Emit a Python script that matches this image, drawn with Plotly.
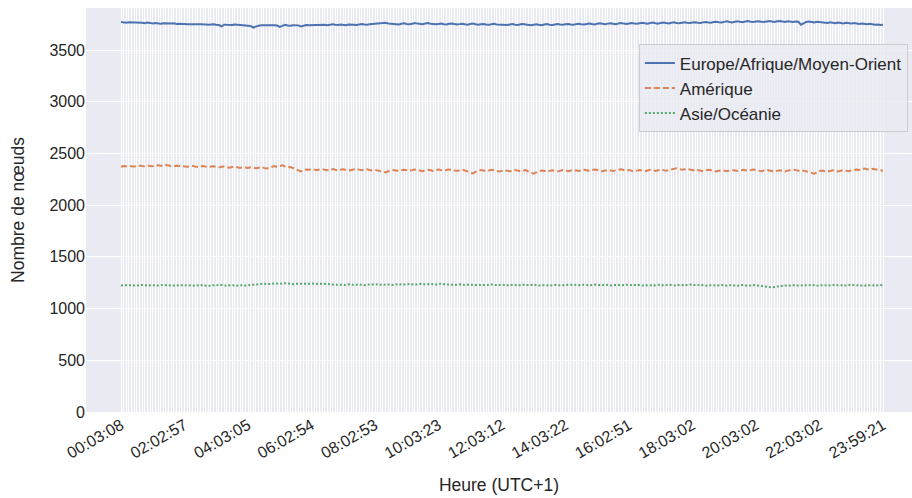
import plotly.graph_objects as go

tick_labels = ["00:03:08", "02:02:57", "04:03:05", "06:02:54", "08:02:53", "10:03:23",
               "12:03:12", "14:03:22", "16:02:51", "18:03:02", "20:03:02", "22:03:02", "23:59:21"]
tick_step = 24
n_points = 289
x_index = list(range(n_points))

europe = [
    3772, 3768, 3765, 3770, 3769, 3766, 3768, 3771, 3764, 3760, 3766, 3763, 3758, 3761, 3757, 3755, 3760, 3758, 3754, 3756, 3759, 3752, 3755, 3757,
    3753, 3750, 3748, 3752, 3747, 3749, 3751, 3746, 3748, 3744, 3747, 3750, 3745, 3742, 3730, 3746, 3744, 3740, 3743, 3747, 3745, 3741, 3744, 3742,
    3738, 3732, 3718, 3728, 3736, 3740, 3738, 3742, 3735, 3739, 3741, 3737, 3725, 3733, 3744, 3738, 3735, 3741, 3743, 3739, 3728, 3737, 3742, 3740,
    3741, 3745, 3739, 3743, 3747, 3744, 3740, 3746, 3749, 3745, 3742, 3748, 3744, 3741, 3747, 3750, 3746, 3743, 3749, 3752, 3748, 3745, 3751, 3755,
    3752, 3756, 3760, 3762, 3765, 3758, 3754, 3757, 3750, 3748, 3755, 3759, 3753, 3749, 3754, 3761, 3756, 3752, 3750, 3757, 3762, 3755, 3751, 3749,
    3753, 3756, 3750, 3748, 3755, 3758, 3752, 3747, 3751, 3754, 3749, 3746, 3752, 3756, 3750, 3745, 3749, 3753, 3748, 3744, 3750, 3754, 3748, 3746,
    3749, 3745, 3742, 3748, 3751, 3746, 3743, 3749, 3752, 3747, 3744, 3741, 3746, 3750, 3744, 3740, 3747, 3751, 3746, 3742, 3748, 3752, 3747, 3744,
    3749, 3753, 3748, 3745, 3751, 3755, 3750, 3747, 3753, 3757, 3752, 3748, 3755, 3759, 3754, 3750, 3756, 3760, 3755, 3751, 3757, 3761, 3756, 3753,
    3758, 3762, 3757, 3754, 3760, 3764, 3759, 3755, 3761, 3766, 3760, 3756, 3763, 3767, 3762, 3758, 3764, 3768, 3763, 3759, 3765, 3769, 3764, 3761,
    3766, 3770, 3765, 3762, 3768, 3772, 3767, 3764, 3771, 3775, 3770, 3766, 3773, 3778, 3772, 3768, 3774, 3779, 3773, 3769, 3776, 3780, 3775, 3771,
    3776, 3779, 3774, 3771, 3777, 3781, 3776, 3772, 3778, 3782, 3777, 3773, 3779, 3775, 3771, 3777, 3774, 3745, 3760, 3772, 3776, 3770, 3767, 3773,
    3769, 3772, 3766, 3763, 3769, 3765, 3760, 3766, 3762, 3758, 3764, 3760, 3756, 3761, 3757, 3753, 3758, 3754, 3750, 3755, 3748, 3744, 3747, 3742,
    3745,
]

amerique = [
    2372, 2378, 2376, 2380, 2377, 2374, 2379, 2382, 2378, 2375, 2381, 2379, 2376, 2383, 2386, 2381, 2378, 2388, 2384, 2380, 2376, 2382, 2379, 2374,
    2378, 2372, 2376, 2380, 2374, 2370, 2375, 2379, 2373, 2369, 2374, 2377, 2371, 2366, 2372, 2375, 2368, 2363, 2369, 2372, 2366, 2361, 2367, 2364,
    2360, 2366, 2362, 2357, 2363, 2368, 2361, 2356, 2362, 2372, 2378, 2369, 2380, 2386, 2374, 2365, 2370, 2358, 2349, 2338, 2326, 2340, 2346, 2342,
    2348, 2344, 2339, 2345, 2350, 2343, 2338, 2344, 2349, 2342, 2336, 2342, 2347, 2341, 2335, 2340, 2346, 2351, 2344, 2338, 2343, 2348, 2341, 2336,
    2342, 2337, 2332, 2325, 2316, 2328, 2335, 2341, 2336, 2330, 2337, 2343, 2338, 2332, 2339, 2345, 2340, 2334, 2329, 2336, 2342, 2337, 2331, 2338,
    2344, 2339, 2333, 2340, 2346, 2341, 2335, 2330, 2337, 2343, 2336, 2326, 2315, 2308, 2322, 2334, 2340, 2335, 2329, 2336, 2342, 2337, 2330, 2325,
    2332, 2338, 2333, 2328, 2335, 2340, 2334, 2327, 2333, 2339, 2322, 2312, 2305, 2318, 2330, 2336, 2331, 2325, 2332, 2338, 2333, 2327, 2334, 2339,
    2333, 2328, 2335, 2341, 2336, 2330, 2337, 2343, 2338, 2332, 2339, 2345, 2340, 2334, 2328, 2335, 2341, 2336, 2330, 2337, 2343, 2348, 2340, 2334,
    2339, 2333, 2327, 2334, 2340, 2335, 2329, 2336, 2342, 2337, 2331, 2338, 2344, 2339, 2333, 2340, 2346, 2352, 2358, 2350, 2342, 2347, 2353, 2345,
    2338, 2333, 2340, 2335, 2329, 2336, 2342, 2337, 2331, 2326, 2333, 2339, 2334, 2328, 2335, 2341, 2336, 2330, 2337, 2343, 2338, 2332, 2339, 2345,
    2340, 2334, 2328, 2335, 2341, 2336, 2330, 2325, 2332, 2338, 2333, 2327, 2334, 2340, 2346, 2339, 2333, 2328, 2335, 2330, 2322, 2313, 2304, 2318,
    2329, 2335, 2330, 2324, 2331, 2337, 2332, 2326, 2333, 2339, 2334, 2328, 2335, 2341, 2346, 2340, 2350, 2355, 2348, 2342, 2352, 2346, 2340, 2336,
    2334,
]

asie = [
    1224, 1226, 1222, 1225, 1227, 1223, 1221, 1226, 1228, 1224, 1222, 1225, 1229, 1226, 1223, 1227, 1230, 1226, 1224, 1228, 1225, 1222, 1226, 1229,
    1227, 1224, 1228, 1225, 1221, 1226, 1229, 1225, 1222, 1218, 1224, 1227, 1223, 1226, 1229, 1225, 1221, 1226, 1228, 1224, 1222, 1225, 1227, 1223,
    1226, 1230, 1233, 1236, 1234, 1238, 1241, 1237, 1235, 1239, 1243, 1240, 1237, 1241, 1245, 1242, 1238, 1236, 1240, 1244, 1241, 1239, 1236, 1240,
    1243, 1239, 1235, 1238, 1242, 1238, 1234, 1237, 1233, 1230, 1234, 1231, 1228, 1232, 1235, 1231, 1228, 1231, 1234, 1230, 1227, 1231, 1233, 1229,
    1232, 1235, 1231, 1228, 1233, 1236, 1232, 1229, 1233, 1237, 1233, 1230, 1234, 1238, 1234, 1231, 1235, 1239, 1235, 1232, 1236, 1240, 1236, 1233,
    1237, 1241, 1236, 1232, 1235, 1231, 1228, 1232, 1235, 1231, 1227, 1231, 1234, 1230, 1227, 1230, 1233, 1229, 1226, 1230, 1233, 1229, 1226, 1229,
    1232, 1228, 1225, 1229, 1232, 1228, 1224, 1228, 1231, 1227, 1224, 1228, 1231, 1227, 1223, 1227, 1230, 1226, 1223, 1227, 1230, 1226, 1223, 1226,
    1229, 1226, 1230, 1233, 1229, 1226, 1230, 1233, 1229, 1225, 1229, 1232, 1228, 1225, 1229, 1232, 1228, 1224, 1228, 1231, 1227, 1224, 1228, 1231,
    1227, 1224, 1228, 1231, 1227, 1223, 1227, 1230, 1226, 1223, 1227, 1230, 1226, 1223, 1227, 1231, 1227, 1224, 1228, 1231, 1227, 1224, 1228, 1232,
    1228, 1224, 1227, 1230, 1226, 1222, 1226, 1229, 1225, 1222, 1226, 1229, 1225, 1221, 1225, 1228, 1224, 1221, 1225, 1228, 1224, 1221, 1224, 1227,
    1223, 1220, 1216, 1212, 1210, 1208, 1206, 1210, 1214, 1217, 1220, 1223, 1220, 1224, 1227, 1223, 1220, 1224, 1227, 1223, 1226, 1229, 1225, 1222,
    1226, 1229, 1225, 1222, 1226, 1229, 1225, 1228, 1231, 1227, 1224, 1228, 1231, 1227, 1224, 1228, 1225, 1222, 1226, 1229, 1225, 1222, 1226, 1228,
    1226,
]

series = [
    ("Europe/Afrique/Moyen-Orient", europe, "#4C72B0", "solid"),
    ("Amérique", amerique, "#DD8452", "6px,3px"),
    ("Asie/Océanie", asie, "#55A868", "2px,2px"),
]

FONT = "Liberation Sans, Arial, sans-serif"
TXT = "#262626"

fig = go.Figure()
for name, vals, color, dash in series:
    fig.add_trace(go.Scatter(x=x_index, y=vals, mode="lines", name=name,
                             line=dict(color=color, width=2, dash=dash)))

tickvals = [i * tick_step for i in range(len(tick_labels))]

fig.update_layout(
    width=912, height=498,
    margin=dict(l=86, r=0, t=8, b=86),
    paper_bgcolor="white",
    plot_bgcolor="#EAEAF2",
    font=dict(family=FONT, size=16.5, color=TXT),
    showlegend=True,
    legend=dict(x=0.995, xanchor="right", y=0.91, yanchor="top",
                bgcolor="rgba(234,234,242,0.8)", bordercolor="#CCCCCC", borderwidth=1,
                font=dict(family=FONT, size=17, color=TXT),
                tracegroupgap=0, itemwidth=30),
)
fig.update_xaxes(
    automargin=False,
    range=[-13.23, 298.96],
    tickmode="array", tickvals=tickvals, ticktext=tick_labels,
    tickangle=-30, tickfont=dict(size=16, color=TXT), ticklen=0,
    showgrid=True, gridcolor="white", gridwidth=1,
    minor=dict(tickmode="array", tickvals=x_index, showgrid=True, gridcolor="white", gridwidth=1.2),
    zeroline=False, showline=False, ticks="",
    title=dict(text="Heure (UTC+1)", font=dict(size=17.5, color=TXT), standoff=18),
)
fig.update_yaxes(
    automargin=False,
    range=[0, 3907], tickmode="linear", tick0=0, dtick=500,
    tickfont=dict(size=16, color=TXT), ticklen=0,
    showgrid=True, gridcolor="white", gridwidth=1.3,
    zeroline=False, showline=False, ticks="",
    title=dict(text="Nombre de nœuds", font=dict(size=17.5, color=TXT), standoff=20),
)

fig.write_html("out.html", config={"displayModeBar": False},
               post_script="document.body.style.margin='0';document.body.style.overflow='hidden';")
